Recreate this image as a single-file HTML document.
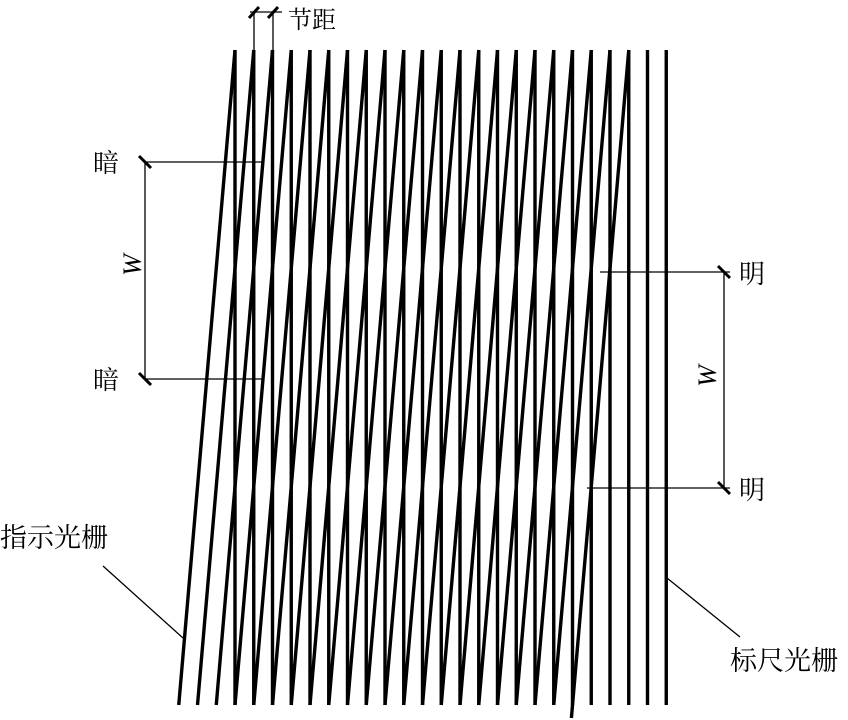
<!DOCTYPE html>
<html><head><meta charset="utf-8"><style>
html,body{margin:0;padding:0;background:#fff;width:848px;height:720px;overflow:hidden}
text{font-family:"Liberation Serif","Noto Serif CJK SC","Noto Sans CJK SC",serif;fill:#000}
</style></head><body>
<svg width="848" height="720" viewBox="0 0 848 720" xmlns="http://www.w3.org/2000/svg">
<g stroke="#000" stroke-width="3.4" fill="none">
<path d="
M235,50V705 M253.75,50V705 M272.5,50V705 M291.25,50V705 M310,50V705 M328.75,50V705 M347.5,50V705 M366.25,50V705 M385,50V705 M403.75,50V705 M422.5,50V705 M441.25,50V705 M460,50V705 M478.75,50V705 M497.5,50V705 M516.25,50V705 M535,50V705 M553.75,50V705 M572.5,50V705 M591.25,50V705 M610,50V705 M628.75,50V705 M647.5,50V705 M666.25,50V705"/>
<path d="
M235,50L178.75,705 M253.75,50L197.5,705 M272.5,50L216.25,705 M291.25,50L235,705 M310,50L253.75,705 M328.75,50L272.5,705 M347.5,50L291.25,705 M366.25,50L310,705 M385,50L328.75,705 M403.75,50L347.5,705 M422.5,50L366.25,705 M441.25,50L385,705 M460,50L403.75,705 M478.75,50L422.5,705 M497.5,50L441.25,705 M516.25,50L460,705 M535,50L478.75,705 M553.75,50L497.5,705 M572.5,50L516.25,705 M591.25,50L535,705 M610,50L553.75,705 M628.75,50L571.4,718"/>
</g>
<g stroke="#000" stroke-width="1.3" fill="none">
<path d="M254,12V50 M273,12V50 M250,12H282"/>
<path d="M145,162H263 M145,379H263 M145,162V379"/>
<path d="M600,272H730 M587,488H730 M724,272V488"/>
<path d="M103,566L183,638 M667,578L740,637"/>
</g>
<g stroke="#000" stroke-width="3">
<path d="M249,18L259,7 M268,18L278,7"/>
<path d="M139,156L151,168 M139,373L151,385"/>
<path d="M718,266L730,278 M718,482L730,494"/>
</g>
<text x="288" y="28" font-size="24">节距</text>
<text x="93" y="172" font-size="26">暗</text>
<text x="93" y="389" font-size="26">暗</text>
<text x="739" y="283" font-size="26">明</text>
<text x="739" y="499" font-size="26">明</text>
<text x="0" y="547" font-size="27">指示光栅</text>
<text x="730" y="670" font-size="27">标尺光栅</text>
<text font-size="26" font-style="italic" transform="translate(141,265) rotate(-90)" text-anchor="middle">W</text>
<text font-size="26" font-style="italic" transform="translate(716,376) rotate(-90)" text-anchor="middle">W</text>
</svg>
</body></html>
